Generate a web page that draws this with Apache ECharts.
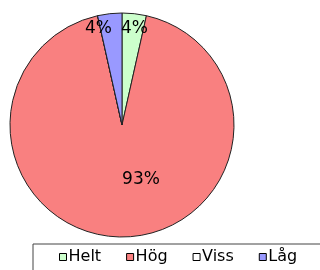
<!DOCTYPE html>
<html>
<head>
<meta charset="utf-8">
<script src="https://cdn.jsdelivr.net/npm/echarts@6/dist/echarts.min.js"></script>
<style>
  html, body { margin: 0; padding: 0; background: #fff; }
  #chart { width: 320px; height: 270px; }
</style>
</head>
<body>
<div id="chart"></div>
<script>
// andel per kategori (%)
const categories = ["Helt", "Hög", "Viss", "Låg"];
const values = [3.5, 93, 0, 3.5];
const colors = ["#ccffcc", "#f98080", "#ffffff", "#9999ff"];

// flytta etiketterna dit Excel lade dem
const labelShift = [[6, -38], [19, -4], [0, 0], [-17, -38]];

const chart = echarts.init(document.getElementById("chart"));

const option = {
  backgroundColor: "#fff",
  animation: false,
  legend: {
    data: categories,
    orient: "horizontal",
    left: 33,
    top: 244,
    width: 275,
    padding: [5, 40, 20, 26],
    itemGap: 25,
    itemWidth: 7,
    itemHeight: 7,
    icon: "rect",
    borderColor: "#444",
    borderWidth: 1,
    itemStyle: { borderColor: "#000", borderWidth: 1 },
    textStyle: {
      fontFamily: "DejaVu Sans",
      fontSize: 16,
      color: "#000",
      padding: [0, 0, 0, -3],
    },
  },
  series: [
    {
      type: "pie",
      center: [122, 125],
      radius: 112,
      startAngle: 90,
      clockwise: true,
      silent: true,
      itemStyle: { borderColor: "#222", borderWidth: 1 },
      label: {
        show: true,
        position: "inside",
        fontFamily: "DejaVu Sans",
        fontSize: 17,
        color: "#000",
        formatter: (p) => (p.value > 0 ? Math.round(p.percent) + "%" : ""),
      },
      labelLine: { show: false },
      labelLayout: (p) => {
        const s = labelShift[p.dataIndex];
        return { dx: s[0], dy: s[1] };
      },
      emphasis: { disabled: true },
      data: categories.map((name, i) => ({
        name: name,
        value: values[i],
        itemStyle: { color: colors[i] },
      })),
    },
  ],
};

chart.setOption(option);
</script>
</body>
</html>
